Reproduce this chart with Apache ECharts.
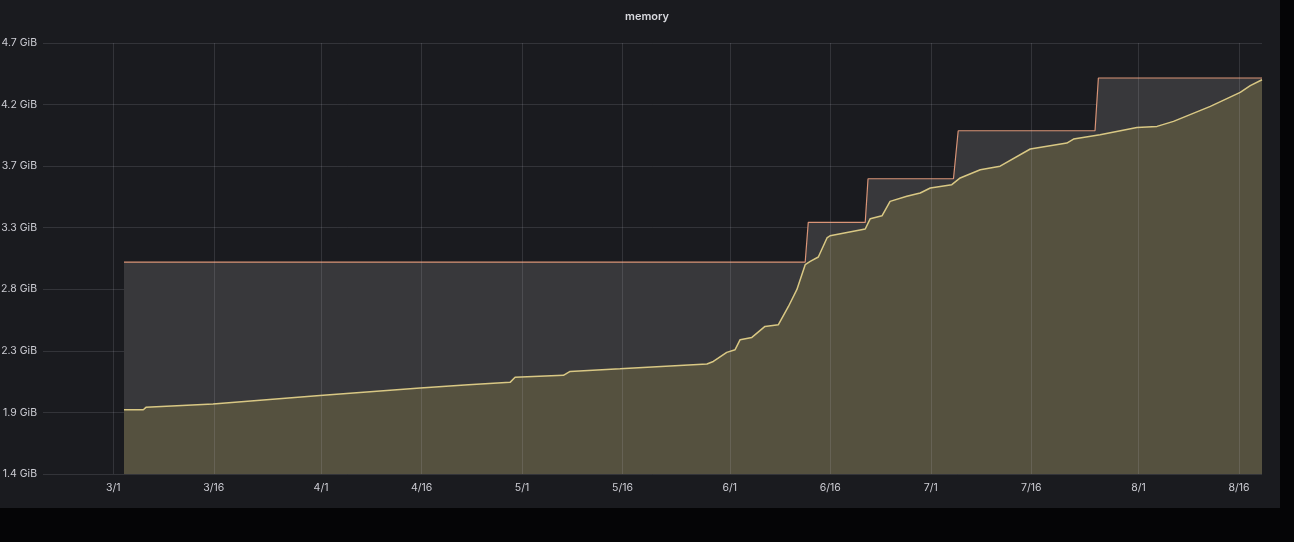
<!DOCTYPE html>
<html>
<head>
<meta charset="utf-8">
<script src="https://cdn.jsdelivr.net/npm/echarts@6/dist/echarts.min.js"></script>
<style>
  html, body { margin: 0; padding: 0; background: #050506; width: 1294px; height: 542px; overflow: hidden; }
  #panel { position: absolute; left: 0; top: 0; width: 1280px; height: 508px; background: #1a1b1f; }
  #chart { position: absolute; left: 0; top: 0; width: 1294px; height: 542px; }
</style>
</head>
<body>
<div id="panel"></div>
<div id="chart"></div>
<script>
// Title
const chartTitle = 'memory';

// X tick dates (1st and 16th of each month)
const tickDates = ['2021-03-01','2021-03-16','2021-04-01','2021-04-16','2021-05-01','2021-05-16',
                   '2021-06-01','2021-06-16','2021-07-01','2021-07-16','2021-08-01','2021-08-16'];

// Y axis (bytes): ticks every 500 MB, shown in GiB
const yMinBytes = 1.5e9;
const yMaxBytes = 5.0e9;
const yStepBytes = 0.5e9;

// Memory usage (GiB)
const usageTimes = [
  '2021-03-02 14:24','2021-03-05 11:30','2021-03-05 21:00','2021-03-15 21:00','2021-03-31 20:00',
  '2021-04-15 19:00','2021-04-16 00:00','2021-04-23 00:00','2021-04-29 05:00','2021-04-29 23:00',
  '2021-05-07 04:00','2021-05-08 04:00','2021-05-15 15:00','2021-05-28 14:00','2021-05-29 13:00',
  '2021-05-31 13:00','2021-06-01 19:00','2021-06-02 13:00','2021-06-04 07:00','2021-06-06 06:00',
  '2021-06-08 06:00','2021-06-09 18:00','2021-06-11 00:00','2021-06-12 06:00','2021-06-13 00:00',
  '2021-06-14 05:00','2021-06-15 12:00','2021-06-15 23:00','2021-06-21 05:00','2021-06-21 23:00',
  '2021-06-23 17:00','2021-06-24 22:00','2021-06-27 10:00','2021-06-29 10:00','2021-06-30 22:00',
  '2021-07-04 03:00','2021-07-05 09:00','2021-07-08 09:00','2021-07-11 08:00','2021-07-15 20:00',
  '2021-07-21 07:00','2021-07-22 07:00','2021-07-26 06:00','2021-07-31 18:00','2021-08-03 18:00',
  '2021-08-06 05:00','2021-08-11 17:00','2021-08-16 04:00','2021-08-17 16:00','2021-08-19 10:00'
];
const usageGiB = [
  1.883,1.883,1.901,1.926,1.991,
  2.047,2.055,2.072,2.090,2.128,
  2.143,2.173,2.193,2.229,2.248,
  2.317,2.337,2.413,2.430,2.513,
  2.526,2.664,2.791,2.980,3.005,
  3.038,3.182,3.199,3.250,3.328,
  3.350,3.459,3.497,3.522,3.560,
  3.585,3.636,3.698,3.725,3.855,
  3.900,3.930,3.963,4.018,4.026,
  4.064,4.177,4.283,4.334,4.379
];

// Memory limit (GiB)
const limitTimes = [
  '2021-03-02 14:24','2021-06-12 06:00','2021-06-12 17:00','2021-06-21 05:00','2021-06-21 15:00',
  '2021-07-04 09:00','2021-07-05 02:00','2021-07-25 12:00','2021-07-26 00:00','2021-08-19 10:00'
];
const limitGiB = [3.0,3.0,3.3,3.3,3.63,3.63,3.993,3.993,4.392,4.392];

const xMin = '2021-02-18 12:15';
const xMax = '2021-08-19 10:00';

const GIB = 1073741824;
const ts = s => +new Date(s.replace(' ', 'T') + (s.length === 10 ? 'T00:00:00' : ':00'));
const toPairs = (times, vs) => times.map((t, i) => [ts(t), vs[i] * GIB]);
const tickValues = tickDates.map(ts);

const chart = echarts.init(document.getElementById('chart'), null, { renderer: 'canvas' });
const gridColor = 'rgba(204,204,220,0.14)';
const textColor = '#cdcdd4';

chart.setOption({
  backgroundColor: 'transparent',
  animation: false,
  title: {
    text: chartTitle, left: 'center', top: 6,
    textStyle: { color: '#d8d9de', fontSize: 11, fontWeight: 600, fontFamily: 'Inter' }
  },
  grid: { left: 43, right: 32, top: 43, bottom: 68, containLabel: false, outerBoundsMode: 'none' },
  xAxis: {
    type: 'value',
    min: ts(xMin), max: ts(xMax),
    axisLine: { show: false },
    axisTick: { show: false },
    axisLabel: {
      customValues: tickValues,
      color: textColor, fontSize: 10.5, fontFamily: 'Inter', margin: 8,
      formatter: v => { const d = new Date(v); return (d.getMonth() + 1) + '/' + d.getDate(); }
    },
    splitLine: { show: false }
  },
  yAxis: {
    type: 'value',
    min: yMinBytes, max: yMaxBytes, interval: yStepBytes,
    axisLine: { show: false }, axisTick: { show: false },
    axisLabel: {
      color: textColor, fontSize: 10.5, fontFamily: 'Inter', margin: 6,
      formatter: v => (v / GIB).toFixed(1) + ' GiB'
    },
    splitLine: { show: true, lineStyle: { color: gridColor, width: 1 } }
  },
  series: [
    {
      name: 'limit', type: 'line', symbol: 'none', z: 2,
      data: toPairs(limitTimes, limitGiB),
      lineStyle: { color: '#d99477', width: 1.2 },
      areaStyle: { color: '#38383b', opacity: 1 },
      markLine: {
        silent: true, symbol: 'none', label: { show: false }, z: 10,
        lineStyle: { color: gridColor, type: 'solid', width: 1 },
        data: tickValues.map(v => ({ xAxis: v }))
      }
    },
    {
      name: 'usage', type: 'line', symbol: 'none', z: 3,
      data: toPairs(usageTimes, usageGiB),
      lineStyle: { color: '#d9c884', width: 1.5 },
      areaStyle: { color: '#55513f', opacity: 1 }
    }
  ]
});
</script>
</body>
</html>
